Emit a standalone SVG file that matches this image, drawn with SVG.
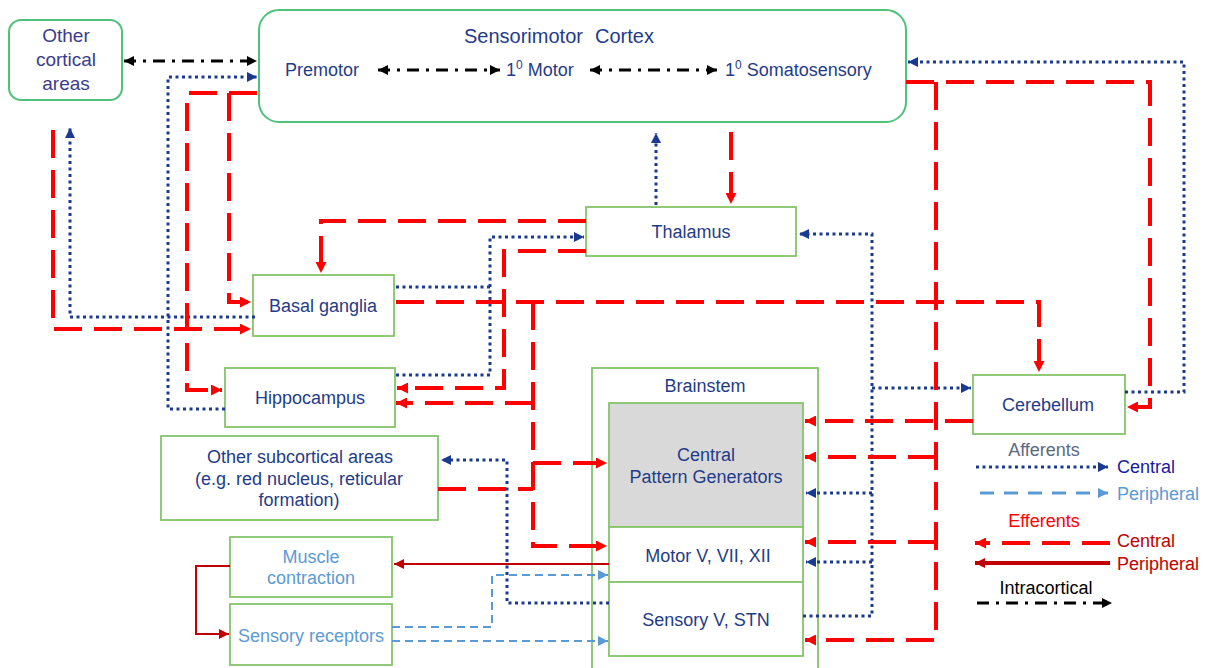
<svg xmlns="http://www.w3.org/2000/svg" width="1215" height="668" viewBox="0 0 1215 668">
<style>
.cx{fill:#fff;stroke:#4ec27b;stroke-width:2}
.nd{fill:#fff;stroke:#86c46c;stroke-width:1.8}
.t{font-family:"Liberation Sans",Arial,sans-serif;font-size:18px;fill:#1f3c88;text-anchor:middle}
.aff{fill:none;stroke:#1a3a90;stroke-width:3;stroke-dasharray:3 3.5}
.eff{fill:none;stroke:#ff0000;stroke-width:4;stroke-dasharray:28 12}
.per{fill:none;stroke:#c00000;stroke-width:2}
.paf{fill:none;stroke:#5b9bd5;stroke-width:2;stroke-dasharray:8 5}
.ic{fill:none;stroke:#000;stroke-width:3;stroke-dasharray:12 7 3 7}
.lg{font-family:"Liberation Sans",Arial,sans-serif;font-size:18px}
</style>
<defs>
<marker id="mA" viewBox="0 0 10 10" refX="10" refY="5" markerWidth="11" markerHeight="10" markerUnits="userSpaceOnUse" orient="auto-start-reverse"><path d="M0,0L10,5L0,10z" fill="#1a3a90"/></marker>
<marker id="mE" viewBox="0 0 10 10" refX="10" refY="5" markerWidth="12" markerHeight="11" markerUnits="userSpaceOnUse" orient="auto-start-reverse"><path d="M0,0L10,5L0,10z" fill="#ff0000"/></marker>
<marker id="mP" viewBox="0 0 10 10" refX="10" refY="5" markerWidth="11" markerHeight="10" markerUnits="userSpaceOnUse" orient="auto-start-reverse"><path d="M0,0L10,5L0,10z" fill="#c00000"/></marker>
<marker id="mL" viewBox="0 0 10 10" refX="10" refY="5" markerWidth="11" markerHeight="10" markerUnits="userSpaceOnUse" orient="auto-start-reverse"><path d="M0,0L10,5L0,10z" fill="#5b9bd5"/></marker>
<marker id="mK" viewBox="0 0 10 10" refX="10" refY="5" markerWidth="11" markerHeight="10" markerUnits="userSpaceOnUse" orient="auto-start-reverse"><path d="M0,0L10,5L0,10z" fill="#000"/></marker>
</defs>

<g id="other-cortical">
<rect class="cx" x="9" y="20" width="113" height="80" rx="12"/>
<text class="t" style="font-size:19px;fill:#3c3c8c" x="66" y="42">Other</text>
<text class="t" style="font-size:19px;fill:#3c3c8c" x="66" y="66">cortical</text>
<text class="t" style="font-size:19px;fill:#3c3c8c" x="66" y="90">areas</text>
</g>
<g id="sensorimotor-cortex">
<rect class="cx" x="259" y="10" width="647" height="112" rx="20"/>
<text class="t" style="font-size:20px;text-anchor:start" x="464" y="43">Sensorimotor</text>
<text class="t" style="font-size:20px;text-anchor:start" x="595" y="43">Cortex</text>
<text class="t" style="text-anchor:start" x="285" y="76">Premotor</text>
<text class="t" style="text-anchor:start" x="506" y="76">1<tspan font-size="12" dy="-7">0</tspan><tspan dy="7"> Motor</tspan></text>
<text class="t" style="text-anchor:start" x="725" y="76">1<tspan font-size="12" dy="-7">0</tspan><tspan dy="7"> Somatosensory</tspan></text>
</g>
<g id="thalamus">
<rect class="nd" x="586" y="207" width="210" height="49"/>
<text class="t" x="691" y="238">Thalamus</text>
</g>
<g id="basal-ganglia">
<rect class="nd" x="253" y="275" width="141" height="61"/>
<text class="t" x="323" y="312">Basal ganglia</text>
</g>
<g id="hippocampus">
<rect class="nd" x="225" y="368" width="170" height="59"/>
<text class="t" x="310" y="404">Hippocampus</text>
</g>
<g id="other-subcortical">
<rect class="nd" x="161" y="436" width="277" height="84"/>
<text class="t" x="300" y="463">Other subcortical areas</text>
<text class="t" x="299" y="485">(e.g. red nucleus, reticular</text>
<text class="t" x="299" y="506">formation)</text>
</g>
<g id="muscle-contraction">
<rect class="nd" x="230" y="537" width="162" height="60"/>
<text class="t" style="fill:#5b9bd5" x="311" y="563">Muscle</text>
<text class="t" style="fill:#5b9bd5" x="311" y="584">contraction</text>
</g>
<g id="sensory-receptors">
<rect class="nd" x="230" y="604" width="162" height="61"/>
<text class="t" style="fill:#5b9bd5" x="311" y="642">Sensory receptors</text>
</g>
<g id="brainstem">
<rect class="nd" x="592" y="368" width="226" height="320"/>
<text class="t" x="705" y="392">Brainstem</text>
</g>
<g id="cpg">
<rect class="nd" style="fill:#d9d9d9" x="609" y="403" width="194" height="124"/>
<text class="t" x="706" y="461">Central</text>
<text class="t" x="706" y="483">Pattern Generators</text>
</g>
<g id="motor-nuclei">
<rect class="nd" x="609" y="527" width="194" height="55"/>
<text class="t" x="708" y="562">Motor V, VII, XII</text>
</g>
<g id="sensory-nuclei">
<rect class="nd" x="609" y="582" width="194" height="74"/>
<text class="t" x="706" y="626">Sensory V, STN</text>
</g>
<g id="cerebellum">
<rect class="nd" x="973" y="375" width="152" height="59"/>
<text class="t" x="1048" y="411">Cerebellum</text>
</g>

<g id="connectors">
<path class="ic" d="M124,61H257" marker-start="url(#mK)" marker-end="url(#mK)"/>
<path class="ic" d="M378,70H500" marker-start="url(#mK)" marker-end="url(#mK)"/>
<path class="ic" d="M590,70H717" marker-start="url(#mK)" marker-end="url(#mK)"/>

<path class="aff" d="M255,317H70V128" marker-end="url(#mA)"/>
<path class="aff" d="M225,409H168V77H257" marker-end="url(#mA)"/>
<path class="aff" d="M396,375H490V237H584" marker-end="url(#mA)"/>
<path class="aff" d="M396,287H490"/>
<path class="aff" d="M656,205V133" marker-end="url(#mA)"/>
<path class="aff" d="M803,616H872V234H799" marker-end="url(#mA)"/>
<path class="aff" d="M872,388H971" marker-end="url(#mA)"/>
<path class="aff" d="M872,493H806" marker-end="url(#mA)"/>
<path class="aff" d="M872,562H806" marker-end="url(#mA)"/>
<path class="aff" d="M1125,392H1184V62H908" marker-end="url(#mA)"/>
<path class="aff" d="M609,603H507V460H441" marker-end="url(#mA)"/>

<path class="eff" d="M257,93H187V390H222" marker-end="url(#mE)"/>
<path class="eff" d="M229,93V302H251" marker-end="url(#mE)"/>
<path class="eff" d="M53,130V329H251" marker-end="url(#mE)"/>
<path class="eff" d="M586,221H321V273" marker-end="url(#mE)"/>
<path class="eff" d="M586,251H504V388H397" marker-end="url(#mE)"/>
<path class="eff" d="M396,302H1039V372" marker-end="url(#mE)"/>
<path class="eff" d="M533,302V546H607" marker-end="url(#mE)"/>
<path class="eff" d="M533,403H396" marker-end="url(#mE)"/>
<path class="eff" d="M533,463H607" marker-end="url(#mE)"/>
<path class="eff" d="M438,489H533"/>
<path class="eff" d="M731,132V204" marker-end="url(#mE)"/>
<path class="eff" d="M906,82H1150V407H1127" marker-end="url(#mE)"/>
<path class="eff" d="M936,82V640H805" marker-end="url(#mE)"/>
<path class="eff" d="M936,457H805" marker-end="url(#mE)"/>
<path class="eff" d="M936,542H805" marker-end="url(#mE)"/>
<path class="eff" d="M973,421H805" marker-end="url(#mE)"/>

<path class="per" d="M609,564H394" marker-end="url(#mP)"/>
<path class="per" d="M230,566H196V634H229" marker-end="url(#mP)"/>

<path class="paf" d="M392,627H492V575H608" marker-end="url(#mL)"/>
<path class="paf" d="M392,641H608" marker-end="url(#mL)"/>
</g>

<g id="legend">
<text class="lg" x="1044" y="456" text-anchor="middle" fill="#596a85">Afferents</text>
<path class="aff" d="M976,467H1108" marker-end="url(#mA)"/>
<text class="lg" x="1117" y="473" fill="#1a1a9c">Central</text>
<path class="paf" style="stroke-width:3;stroke-dasharray:14 10" d="M980,493H1108" marker-end="url(#mL)"/>
<text class="lg" x="1117" y="500" fill="#5b9bd5">Peripheral</text>
<text class="lg" x="1044" y="527" text-anchor="middle" fill="#ff0000">Efferents</text>
<path class="eff" d="M1110,543H975" marker-end="url(#mE)"/>
<text class="lg" x="1117" y="547" fill="#c00000">Central</text>
<path class="per" style="stroke-width:4" d="M1110,563H975" marker-end="url(#mP)"/>
<text class="lg" x="1117" y="570" fill="#c00000">Peripheral</text>
<text class="lg" x="1046" y="594" text-anchor="middle" fill="#000">Intracortical</text>
<path class="ic" d="M977,603H1112" marker-end="url(#mK)"/>
</g>
</svg>
